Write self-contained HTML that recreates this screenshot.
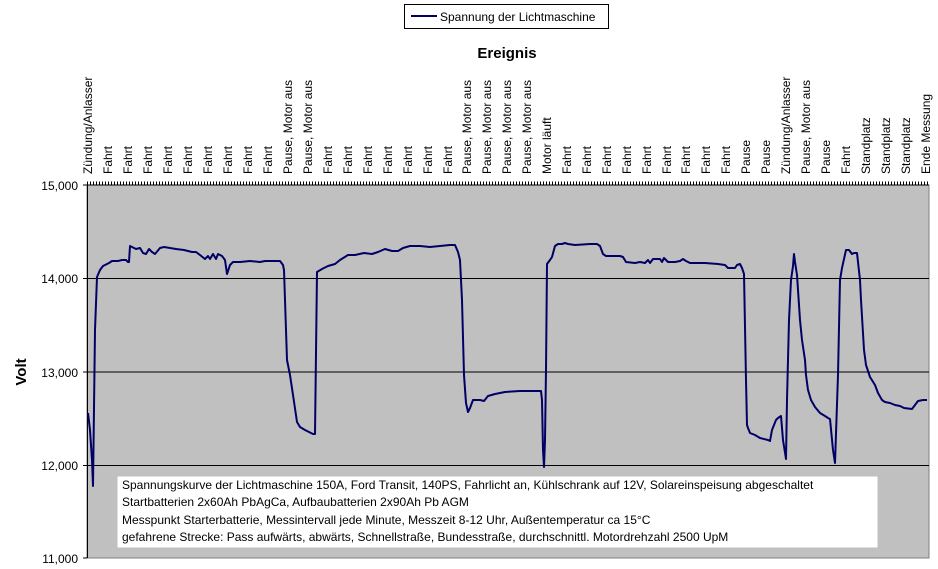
<!DOCTYPE html>
<html><head><meta charset="utf-8"><style>
html,body{margin:0;padding:0;background:#fff;}
svg{display:block;font-family:"Liberation Sans",Arial,sans-serif;}
</style></head><body>
<svg width="938" height="569" viewBox="0 0 938 569" xmlns="http://www.w3.org/2000/svg">
<rect x="404.5" y="4.5" width="204" height="24" fill="#fff" stroke="#000" stroke-width="1"/>
<line x1="411" y1="16" x2="437" y2="16" stroke="#000066" stroke-width="2"/>
<text x="440" y="21" font-size="12">Spannung der Lichtmaschine</text>
<text x="507" y="58" font-size="15" font-weight="bold" text-anchor="middle">Ereignis</text>
<rect x="87" y="185" width="842" height="373" fill="#c0c0c0" stroke="#808080" stroke-width="1"/>
<g stroke="#000" stroke-width="1">
<line x1="87" y1="278.5" x2="929" y2="278.5"/>
<line x1="87" y1="372" x2="929" y2="372"/>
<line x1="87" y1="465.5" x2="929" y2="465.5"/>
<line x1="87" y1="185" x2="929" y2="185"/>
<line x1="87.5" y1="185" x2="87.5" y2="558"/>
<line x1="83" y1="185" x2="87" y2="185"/><line x1="83" y1="278.5" x2="87" y2="278.5"/><line x1="83" y1="372" x2="87" y2="372"/><line x1="83" y1="465.5" x2="87" y2="465.5"/><line x1="83" y1="558" x2="87" y2="558"/>
</g>
<line x1="87" y1="183" x2="929" y2="183" stroke="#000" stroke-width="3" stroke-dasharray="1 2"/>
<g font-size="12" text-anchor="end">
<text x="78" y="190">15,000</text><text x="78" y="283">14,000</text><text x="78" y="377">13,000</text><text x="78" y="470">12,000</text><text x="78" y="563">11,000</text>
</g>
<text transform="translate(26,372) rotate(-90)" font-size="15" font-weight="bold" text-anchor="middle">Volt</text>
<g font-size="12" id="labs"></g>
<polyline fill="none" stroke="#000066" stroke-width="2" stroke-linejoin="round" points="88,413 90,430 92,460 93,486 95,330 97,277 100,270 103,266 107,264 109,263 112,261 118,261 122,260 126,260 128,262 129,262 130,246 132,247 136,249 140,248 143,253 146,254 149,249 152,252 155,254 160,248 164,247 170,248 176,249 184,250 192,252 196,252 200,255 205,259 208,256 210,259 213,254 216,259 218,254 222,256 225,260 227,274 230,265 233,262 240,262 250,261 260,262 265,261 280,261 283,265 284,270 287,360 290,375 293,395 297,422 300,427 305,430 313,434 315,434 317,272 322,269 328,266 335,264 340,260 348,255 355,255 364,253 372,254 378,252 385,249 392,251 398,251 403,248 410,246 420,246 430,247 440,246 450,245 455,245 458,252 460,260 462,300 464,375 466,403 468,412 470,408 473,400 480,400 484,401 488,396 495,394 505,392 520,391 541,391 542,400 543,450 544,467 545,440 546,370 547,264 550,260 552,257 555,246 558,244 562,244 565,243 568,244 575,245 590,244 597,244 600,246 603,254 606,256 614,256 620,256 623,257 626,262 635,263 640,262 645,263 648,260 650,263 653,259 657,259 660,259 662,262 664,258 668,262 675,262 680,261 683,259 686,261 690,263 705,263 718,264 725,265 728,268 735,268 737,265 740,264 742,268 744,274 746,380 747,425 748,428 750,433 755,435 760,438 768,440 770,441 772,430 776,420 778,418 781,416 783,440 786,459 787,400 789,320 791,280 793,266 794,254 795,262 797,275 800,320 802,340 805,360 806,375 808,390 811,400 815,407 820,413 825,416 828,418 830,419 833,450 835,463 838,375 840,280 842,268 846,250 849,250 852,254 854,253 857,253 860,280 861,300 864,350 866,365 870,377 875,385 878,393 882,400 885,402 890,403 895,405 900,406 904,408 912,409 915,405 918,401 923,400 927,400"/>
<rect x="117.5" y="476.5" width="760" height="71" fill="#fff"/>
<g font-size="12">
<text x="122" y="489">Spannungskurve der Lichtmaschine 150A, Ford Transit, 140PS, Fahrlicht an, Kühlschrank auf 12V, Solareinspeisung abgeschaltet</text>
<text x="122" y="506">Startbatterien 2x60Ah PbAgCa, Aufbaubatterien 2x90Ah Pb AGM</text>
<text x="122" y="524">Messpunkt Starterbatterie, Messintervall jede Minute, Messzeit 8-12 Uhr, Außentemperatur ca 15°C</text>
<text x="122" y="541">gefahrene Strecke: Pass aufwärts, abwärts, Schnellstraße, Bundesstraße, durchschnittl. Motordrehzahl 2500 UpM</text>
</g>
<g font-size="12">
<text transform="translate(92,174) rotate(-90)">Zündung/Anlasser</text>
<text transform="translate(112,174) rotate(-90)">Fahrt</text>
<text transform="translate(132,174) rotate(-90)">Fahrt</text>
<text transform="translate(152,174) rotate(-90)">Fahrt</text>
<text transform="translate(172,174) rotate(-90)">Fahrt</text>
<text transform="translate(192,174) rotate(-90)">Fahrt</text>
<text transform="translate(212,174) rotate(-90)">Fahrt</text>
<text transform="translate(232,174) rotate(-90)">Fahrt</text>
<text transform="translate(252,174) rotate(-90)">Fahrt</text>
<text transform="translate(272,174) rotate(-90)">Fahrt</text>
<text transform="translate(292,174) rotate(-90)">Pause, Motor aus</text>
<text transform="translate(312,174) rotate(-90)">Pause, Motor aus</text>
<text transform="translate(332,174) rotate(-90)">Fahrt</text>
<text transform="translate(352,174) rotate(-90)">Fahrt</text>
<text transform="translate(372,174) rotate(-90)">Fahrt</text>
<text transform="translate(392,174) rotate(-90)">Fahrt</text>
<text transform="translate(412,174) rotate(-90)">Fahrt</text>
<text transform="translate(432,174) rotate(-90)">Fahrt</text>
<text transform="translate(452,174) rotate(-90)">Fahrt</text>
<text transform="translate(471,174) rotate(-90)">Pause, Motor aus</text>
<text transform="translate(491,174) rotate(-90)">Pause, Motor aus</text>
<text transform="translate(511,174) rotate(-90)">Pause, Motor aus</text>
<text transform="translate(531,174) rotate(-90)">Pause, Motor aus</text>
<text transform="translate(551,174) rotate(-90)">Motor läuft</text>
<text transform="translate(571,174) rotate(-90)">Fahrt</text>
<text transform="translate(591,174) rotate(-90)">Fahrt</text>
<text transform="translate(611,174) rotate(-90)">Fahrt</text>
<text transform="translate(631,174) rotate(-90)">Fahrt</text>
<text transform="translate(651,174) rotate(-90)">Fahrt</text>
<text transform="translate(671,174) rotate(-90)">Fahrt</text>
<text transform="translate(690,174) rotate(-90)">Fahrt</text>
<text transform="translate(710,174) rotate(-90)">Fahrt</text>
<text transform="translate(730,174) rotate(-90)">Fahrt</text>
<text transform="translate(750,174) rotate(-90)">Pause</text>
<text transform="translate(770,174) rotate(-90)">Pause</text>
<text transform="translate(790,174) rotate(-90)">Zündung/Anlasser</text>
<text transform="translate(810,174) rotate(-90)">Pause, Motor aus</text>
<text transform="translate(830,174) rotate(-90)">Pause</text>
<text transform="translate(850,174) rotate(-90)">Fahrt</text>
<text transform="translate(870,174) rotate(-90)">Standplatz</text>
<text transform="translate(890,174) rotate(-90)">Standplatz</text>
<text transform="translate(910,174) rotate(-90)">Standplatz</text>
<text transform="translate(930,174) rotate(-90)">Ende Messung</text>
</g>
</svg>
</body></html>
